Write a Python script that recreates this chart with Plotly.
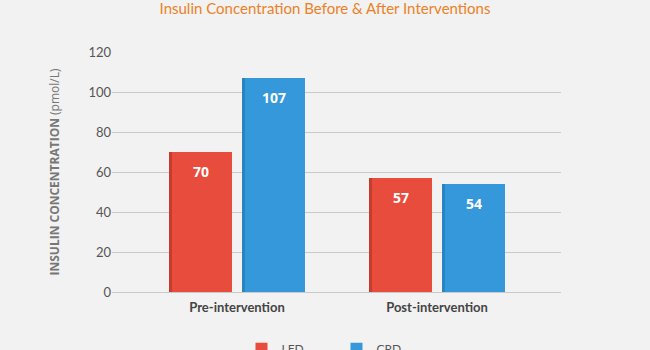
import plotly.graph_objects as go

categories = ["Pre-intervention", "Post-intervention"]
lfd_values = [70, 57]
crd_values = [107, 54]
series_names = ["LFD", "CRD"]
y_ticks = [0, 20, 40, 60, 80, 100, 120]

colors = ["#E84C3D", "#3498DB"]
edge_colors = ["#C63D30", "#2A84C4"]
offsets = [-0.34, 0.025]
bar_w = 0.315
edge_w = 0.016

fig = go.Figure()
for name, vals, col, edge, off in zip(series_names, [lfd_values, crd_values], colors, edge_colors, offsets):
    fig.add_trace(go.Bar(
        x=categories, y=vals, name=name, marker=dict(color=col, line=dict(width=0)),
        width=bar_w, offset=off, hoverinfo="x+y",
    ))
    fig.add_trace(go.Bar(
        x=categories, y=vals, showlegend=False, marker=dict(color=edge, line=dict(width=0)),
        width=edge_w, offset=off, hoverinfo="skip",
    ))
    for i, v in enumerate(vals):
        fig.add_annotation(
            x=i, xref="x", y=v, yref="y", xshift=(off + bar_w / 2) * 200, yshift=-19,
            text="<b>%d</b>" % v, showarrow=False, yanchor="middle",
            font=dict(color="white", size=14, family="Open Sans, sans-serif"),
        )

fig.update_layout(
    width=650, height=350,
    barmode="overlay",
    paper_bgcolor="#F2F2F2", plot_bgcolor="#F2F2F2",
    margin=dict(l=112, r=89, t=52, b=58),
    title=dict(text="Insulin Concentration Before & After Interventions",
               x=0.5, xanchor="center", y=0.975, yanchor="middle",
               font=dict(size=15, color="#EC8127", family="Lato, sans-serif")),
    font=dict(family="Lato, sans-serif", color="#555555"),
    xaxis=dict(range=[-0.625, 1.62], showgrid=False, showline=False, ticks="",
               tickfont=dict(size=13, color="#444444", family="Lato, sans-serif"),
               tickprefix="<b>", ticksuffix="</b>", ticklabelstandoff=6),
    yaxis=dict(range=[0, 120], tickvals=y_ticks, showgrid=True, gridcolor="#C9C9C9",
               gridwidth=1, zeroline=True, zerolinecolor="#C9C9C9", zerolinewidth=1,
               tickfont=dict(size=13, color="#555555"), ticks="", ticklen=0,
               title=dict(text="<b>INSULIN CONCENTRATION</b> (pmol/L)", standoff=26,
                          font=dict(size=12, color="#777777", family="Open Sans, sans-serif"))),
    legend=dict(orientation="h", x=0.5, xanchor="center", yref="container", y=0.045,
                yanchor="top", font=dict(size=12, color="#555555"), itemwidth=30,
                entrywidth=50, entrywidthmode="pixels", traceorder="normal"),
    bargap=0,
)

fig.write_html("out.html")
